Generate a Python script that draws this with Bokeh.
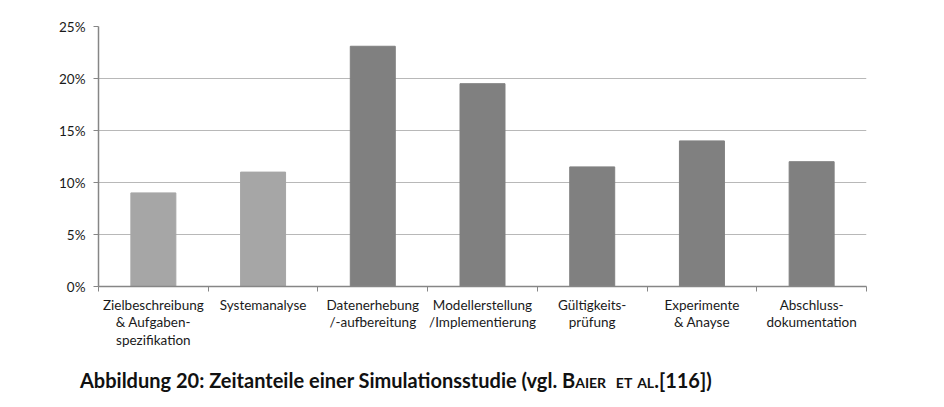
from bokeh.plotting import figure
from bokeh.models import (Range1d, LinearAxis, FixedTicker,
                          ColumnDataSource, Div, PrintfTickFormatter)
from bokeh.layouts import column
from bokeh.embed import file_html
from bokeh.resources import INLINE

categories = ["Zielbeschreibung\n& Aufgaben-\nspezifikation", "Systemanalyse",
              "Datenerhebung\n/-aufbereitung", "Modellerstellung\n/Implementierung",
              "Gültigkeits-\nprüfung", "Experimente\n& Anayse", "Abschluss-\ndokumentation"]
values = [9.0, 11.0, 23.1, 19.5, 11.5, 14.0, 12.0]
colors = ["#A6A6A6", "#A6A6A6", "#808080", "#808080", "#808080", "#808080", "#808080"]
y_ticks = [0, 5, 10, 15, 20, 25]

FONT = "Lato"
n = len(categories)
centers = [i + 0.5 for i in range(n)]
bounds = [float(i) for i in range(n + 1)]
src = ColumnDataSource(dict(x=centers, val=values, col=colors))

p = figure(x_range=Range1d(0, n), y_range=Range1d(0, 25), width=944, height=360,
           output_backend="svg", toolbar_location=None,
           x_axis_location=None, y_axis_location=None,
           min_border_left=98, min_border_right=78, min_border_top=26, min_border_bottom=74)
p.outline_line_color = None
p.xgrid.grid_line_color = None
p.background_fill_color = "white"
p.border_fill_color = "white"

p.vbar(x="x", top="val", width=0.41, color="col", source=src)

yax = LinearAxis(ticker=FixedTicker(ticks=y_ticks))
yax.formatter = PrintfTickFormatter(format="%d%%")
yax.axis_line_color = "#868686"
yax.axis_line_width = 1.5
yax.major_tick_line_color = "#868686"
yax.major_tick_out = 5
yax.major_tick_in = 0
yax.minor_tick_line_color = None
yax.major_label_text_font = FONT
yax.major_label_text_font_size = "13.5px"
yax.major_label_text_color = "#1a1a1a"
yax.major_label_standoff = 8
p.add_layout(yax, "left")

p.ygrid.ticker = FixedTicker(ticks=y_ticks)
p.ygrid.grid_line_color = "#B8B8B8"
p.ygrid.grid_line_width = 1.2

xax = LinearAxis(ticker=FixedTicker(ticks=centers, minor_ticks=bounds))
xax.major_label_overrides = {c: lab for c, lab in zip(centers, categories)}
xax.axis_line_color = "#868686"
xax.axis_line_width = 1.5
xax.major_tick_line_color = None
xax.minor_tick_line_color = "#868686"
xax.minor_tick_line_width = 1
xax.minor_tick_out = 5
xax.minor_tick_in = 0
xax.major_tick_out = 5
xax.major_tick_in = 0
xax.major_label_text_font = FONT
xax.major_label_text_font_size = "13.5px"
xax.major_label_text_color = "#1a1a1a"
xax.major_label_standoff = 5
xax.major_label_text_line_height = 1.12
p.add_layout(xax, "below")

cap = Div(text='Abbildung 20: Zeitanteile einer Simulationsstudie (vgl. '
               '<span style="font-variant:small-caps">Baier&nbsp; et al.</span>[116])',
          styles={"font-family": FONT, "font-weight": "bold", "font-size": "20px",
                  "color": "#111111", "white-space": "nowrap"},
          margin=(6, 0, 0, 80), width=800)

layout = column(p, cap, spacing=0)
open("out.html", "w").write(file_html(layout, INLINE))
